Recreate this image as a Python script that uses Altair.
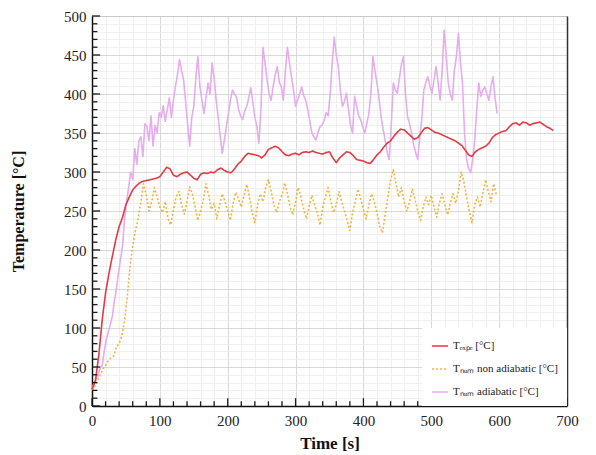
import altair as alt
import pandas as pd

# ---------------- data ----------------
SERIES = ["Tₑₓₚₑ [°C]", "Tₙᵤₘ non adiabatic [°C]", "Tₙᵤₘ adiabatic [°C]"]

# experimental temperature, sampled every 5 s from t = 0 s
t_expe_step = 5
t_expe = [22, 32, 65, 110, 145, 170, 192, 213, 230, 242, 258, 268, 277, 282, 286, 288,
          289, 290, 291, 292, 294, 300, 306, 304, 296, 294, 297, 299, 300, 296, 292, 290,
          297, 299, 298, 300, 299, 303, 305, 302, 300, 299, 304, 310, 314, 320, 324, 323,
          322, 321, 318, 322, 329, 331, 333, 331, 326, 322, 321, 323, 324, 322, 325, 326,
          325, 327, 325, 324, 323, 325, 326, 318, 312, 318, 322, 326, 325, 321, 316, 315,
          314, 312, 311, 316, 322, 326, 332, 337, 340, 346, 351, 355, 354, 350, 346, 342,
          344, 350, 356, 357, 354, 351, 350, 348, 346, 344, 342, 340, 337, 334, 328, 322,
          320, 326, 329, 331, 333, 337, 344, 348, 350, 352, 353, 358, 362, 363, 360, 364,
          363, 360, 362, 363, 364, 361, 358, 356, 353]

# numerical, non adiabatic, sampled every 4 s from t = 0 s
t_nonadia_step = 4
t_nonadia = [20, 25, 32, 40, 47, 52, 58, 62, 64, 76, 80, 90, 110, 140, 179, 205,
             225, 240, 262, 285, 270, 250, 262, 280, 268, 255, 248, 262, 240, 232, 252, 268,
             275, 258, 246, 262, 281, 272, 255, 238, 250, 264, 285, 270, 252, 260, 240, 258,
             272, 262, 250, 238, 260, 274, 265, 255, 270, 284, 268, 248, 235, 258, 272, 262,
             280, 290, 275, 258, 248, 262, 270, 286, 272, 255, 245, 262, 280, 268, 252, 240,
             256, 270, 258, 248, 232, 255, 268, 280, 262, 248, 258, 275, 262, 250, 238, 225,
             248, 262, 278, 265, 252, 240, 258, 272, 262, 248, 230, 222, 245, 268, 290, 303,
             285, 268, 280, 262, 250, 262, 278, 265, 250, 238, 255, 268, 258, 270, 255, 242,
             260, 272, 258, 245, 260, 272, 260, 276, 300, 288, 268, 250, 235, 258, 268, 255,
             272, 290, 275, 262, 285, 270]

# numerical, adiabatic, sampled every 3 s from t = 0 s
t_adia_step = 3
t_adia = [25, 28, 35, 40, 48, 52, 70, 85, 95, 105, 115, 135, 150, 170, 188, 205,
          240, 262, 280, 300, 290, 330, 310, 340, 345, 320, 362, 358, 340, 372, 333, 360,
          350, 376, 370, 385, 365, 380, 395, 370, 392, 410, 425, 444, 430, 418, 390, 360,
          333, 370, 384, 420, 448, 410, 392, 375, 395, 414, 400, 440, 420, 392, 370, 345,
          324, 340, 358, 375, 392, 405, 400, 396, 380, 372, 367, 378, 384, 395, 408, 390,
          370, 358, 337, 380, 460, 440, 418, 400, 392, 410, 425, 435, 415, 409, 392, 430,
          460, 440, 422, 405, 384, 392, 400, 409, 398, 392, 380, 365, 350, 345, 341, 350,
          358, 360, 366, 376, 372, 400, 440, 473, 450, 435, 405, 384, 390, 401, 380, 360,
          350, 397, 385, 372, 367, 358, 350, 362, 375, 400, 448, 430, 414, 395, 371, 355,
          341, 325, 316, 360, 414, 405, 401, 420, 438, 448, 400, 371, 362, 350, 335, 325,
          316, 345, 367, 405, 415, 422, 410, 401, 418, 435, 415, 392, 430, 482, 450, 414,
          400, 392, 430, 448, 478, 440, 414, 350, 316, 305, 299, 316, 340, 380, 414, 397,
          405, 409, 400, 392, 410, 422, 395, 375]

X_TICKS_MINOR = list(range(0, 701, 20))
X_TICKS_MAJOR = list(range(0, 701, 100))
Y_TICKS_MINOR = list(range(0, 501, 10))
Y_TICKS_MAJOR = list(range(0, 501, 50))

rows = []
for name, vals, step in [(SERIES[0], t_expe, t_expe_step),
                         (SERIES[1], t_nonadia, t_nonadia_step),
                         (SERIES[2], t_adia, t_adia_step)]:
    for i, v in enumerate(vals):
        rows.append({"t": i * step, "T": v, "s": name})
df = pd.DataFrame(rows)

# inward tick marks (lengths in data units)
xt = pd.DataFrame({"tx": X_TICKS_MINOR,
                   "y0": [0] * len(X_TICKS_MINOR),
                   "y1": [10 if v in X_TICKS_MAJOR else 6 for v in X_TICKS_MINOR]})
yt = pd.DataFrame({"ty": Y_TICKS_MINOR,
                   "x0": [0] * len(Y_TICKS_MINOR),
                   "x1": [12 if v in Y_TICKS_MAJOR else 8 for v in Y_TICKS_MINOR]})

FONT = "Liberation Serif"
xscale = alt.Scale(domain=[0, 700], nice=False, zero=False)
yscale = alt.Scale(domain=[0, 500], nice=False, zero=False)

base = alt.Chart(df)


def ghost(xaxis, yaxis):
    return base.mark_line(opacity=0).encode(
        x=alt.X("t:Q", scale=xscale, axis=xaxis),
        y=alt.Y("T:Q", scale=yscale, axis=yaxis),
        detail="s:N",
    )


def plain(orient, values, **kw):
    opts = dict(orient=orient, values=values, labels=False, ticks=False,
                domain=False, grid=False, title=None)
    opts.update(kw)
    return alt.Axis(**opts)


g_minor = ghost(plain("bottom", X_TICKS_MINOR, grid=True, gridColor="#ececec", gridWidth=0.8),
                plain("left", Y_TICKS_MINOR, grid=True, gridColor="#ececec", gridWidth=0.8))
g_major = ghost(plain("bottom", X_TICKS_MAJOR, grid=True, gridColor="#d6d6d6", gridWidth=0.9),
                plain("left", Y_TICKS_MAJOR, grid=True, gridColor="#d6d6d6", gridWidth=0.9))
box = ghost(plain("top", X_TICKS_MAJOR, domain=True, domainColor="#c8c8c8", domainWidth=1),
            plain("right", Y_TICKS_MAJOR, domain=True, domainColor="#333333", domainWidth=1.5))

xticks = alt.Chart(xt).mark_rule(color="#1a1a1a", strokeWidth=1.3).encode(
    x=alt.X("tx:Q", scale=xscale, axis=None),
    y=alt.Y("y0:Q", scale=yscale, axis=None),
    y2=alt.Y2("y1:Q"),
)
yticks = alt.Chart(yt).mark_rule(color="#1a1a1a", strokeWidth=1.3).encode(
    y=alt.Y("ty:Q", scale=yscale, axis=None),
    x=alt.X("x0:Q", scale=xscale, axis=None),
    x2=alt.X2("x1:Q"),
)

cscale = alt.Scale(domain=SERIES, range=["#e43a44", "#f2b441", "#e6acef"])
dscale = alt.Scale(domain=SERIES, range=[[1, 0], [2, 2], [1, 0]])
wscale = alt.Scale(domain=SERIES, range=[1.6, 1.6, 1.0])
legend = alt.Legend(title=None, orient="bottom-right", offset=0, fillColor="white",
                    padding=9, rowPadding=9, labelFont=FONT, labelFontSize=11,
                    labelColor="#222222", symbolType="stroke", symbolSize=260,
                    symbolStrokeWidth=1.5)

xlab = alt.Axis(orient="bottom", values=X_TICKS_MAJOR, ticks=False, grid=False,
                domain=True, domainColor="#111111", domainWidth=1.5,
                labelFont=FONT, labelFontSize=15, labelColor="#222222",
                labelPadding=7, labelFlush=False,
                title="Time [s]", titleFont=FONT, titleFontSize=17,
                titleFontWeight="bold", titleColor="#111111", titlePadding=7)
ylab = alt.Axis(orient="left", values=Y_TICKS_MAJOR, ticks=False, grid=False,
                domain=True, domainColor="#111111", domainWidth=1.5,
                labelFont=FONT, labelFontSize=15, labelColor="#222222",
                labelPadding=6, labelFlush=False,
                title="Temperature [°C]", titleFont=FONT, titleFontSize=16,
                titleFontWeight="bold", titleColor="#111111", titlePadding=37)


def series_layer(name, xaxis, yaxis):
    return base.transform_filter(alt.datum.s == name).mark_line(
        strokeJoin="round"
    ).encode(
        x=alt.X("t:Q", scale=xscale, axis=xaxis),
        y=alt.Y("T:Q", scale=yscale, axis=yaxis),
        color=alt.Color("s:N", scale=cscale, legend=legend, sort=SERIES),
        strokeDash=alt.StrokeDash("s:N", scale=dscale, legend=legend, sort=SERIES),
        strokeWidth=alt.StrokeWidth("s:N", scale=wscale, legend=None),
    )


pink = series_layer(SERIES[2], xlab, ylab)
orange = series_layer(SERIES[1], None, None)
red = series_layer(SERIES[0], None, None)

chart = alt.layer(g_minor, g_major, pink, orange, red, xticks, yticks, box).resolve_axis(
    x="independent", y="independent"
).properties(
    width=475, height=390,
    autosize=alt.AutoSizeParams(type="none"),
    padding={"left": 84, "top": 8, "right": 21, "bottom": 45},
).configure_view(stroke=None)

chart.save("out.html", embed_options={"renderer": "svg", "actions": False})
